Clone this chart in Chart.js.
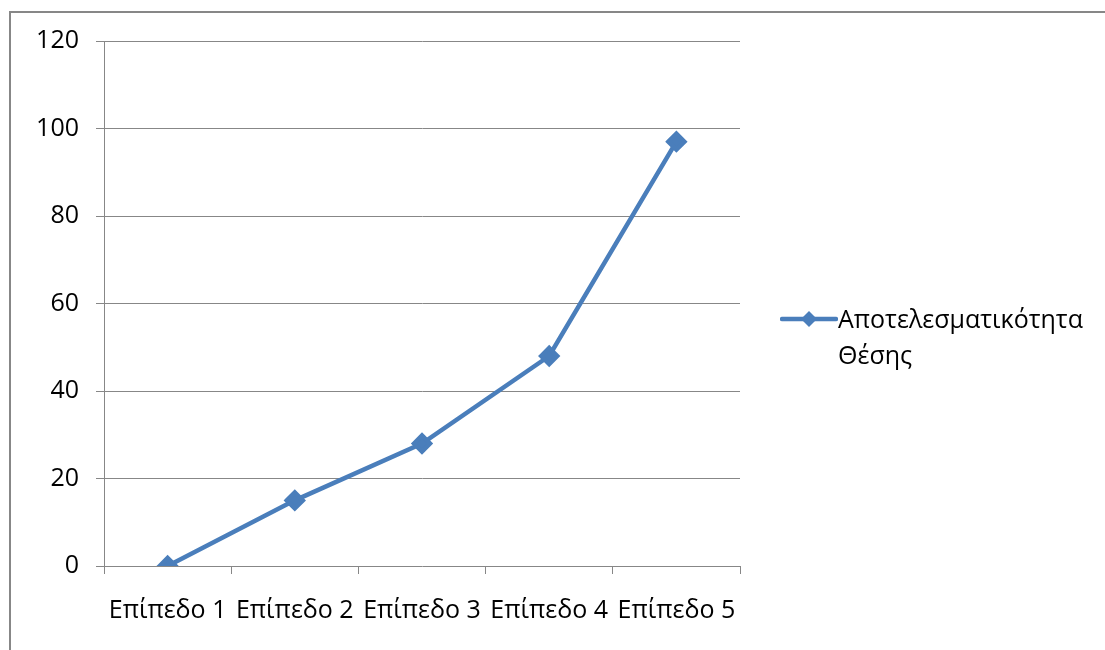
<!DOCTYPE html>
<html>
<head>
<meta charset="utf-8">
<script src="https://cdn.jsdelivr.net/npm/chart.js@4.4.0/dist/chart.umd.min.js"></script>
<style>
  body { margin: 0; width: 1105px; height: 650px; overflow: hidden; background: #fff; font-family: "Open Sans", sans-serif; }
  #frame { position: absolute; left: 9px; top: 11px; width: 1200px; height: 700px; border-left: 2px solid #878787; border-top: 2px solid #878787; }
  #wrap { position: absolute; left: 0; top: 0; width: 1105px; height: 650px; }
  #legend { position: absolute; left: 780px; top: 300px; font-size: 25px; line-height: 36px; color: #000; }
  #legend svg { position: absolute; left: 0; top: 10px; }
  #legend .txt { margin-left: 58px; }
</style>
</head>
<body>
<div id="frame"></div>
<div id="wrap"><canvas id="myChart" width="1105" height="650"></canvas></div>
<div id="legend">
  <svg width="58" height="20"><line x1="2" y1="9" x2="56" y2="9" stroke="#4A7EBB" stroke-width="4.5" stroke-linecap="round"/><polygon points="29,1 37,9 29,17 21,9" fill="#4A7EBB"/></svg>
  <div class="txt" id="legendText"></div>
</div>
<script>
var labels = ['Επίπεδο 1', 'Επίπεδο 2', 'Επίπεδο 3', 'Επίπεδο 4', 'Επίπεδο 5'];
var values = [0, 15, 28, 48, 97];
var seriesName = ['Αποτελεσματικότητα', 'Θέσης'];
var yTicks = [0, 20, 40, 60, 80, 100, 120];

document.getElementById('legendText').innerHTML = seriesName.join('<br>');

var gridColor = '#878787';
var ctx = document.getElementById('myChart').getContext('2d');

var myChart = new Chart(ctx, {
    type: 'line',
    data: {
        labels: labels,
        datasets: [{
            label: seriesName.join(' '),
            data: values,
            borderColor: '#4A7EBB',
            backgroundColor: '#4A7EBB',
            borderWidth: 4.5,
            pointStyle: 'rectRot',
            pointRadius: 8,
            pointHoverRadius: 8,
            tension: 0
        }]
    },
    options: {
        responsive: false,
        animation: false,
        layout: { padding: { left: 0, top: 41, right: 365, bottom: 0 } },
        plugins: { legend: { display: false }, tooltip: { enabled: false } },
        scales: {
            x: {
                offset: true,
                grid: { offset: true, drawOnChartArea: false, drawTicks: true, tickLength: 8, color: gridColor, lineWidth: 1 },
                border: { display: false },
                ticks: { color: '#000', padding: 22, maxRotation: 0, autoSkip: false, font: { family: 'Open Sans', size: 25 } },
                afterFit: function (s) { s.height = 84; }
            },
            y: {
                min: 0,
                max: 120,
                afterBuildTicks: function (s) { s.ticks = yTicks.map(function (v) { return { value: v }; }); },
                grid: { color: gridColor, lineWidth: 1, tickLength: 8 },
                border: { color: gridColor, width: 1 },
                ticks: { color: '#000', padding: 17, font: { family: 'Open Sans', size: 25 } },
                afterFit: function (s) { s.width = 104; }
            }
        }
    }
});
</script>
</body>
</html>
